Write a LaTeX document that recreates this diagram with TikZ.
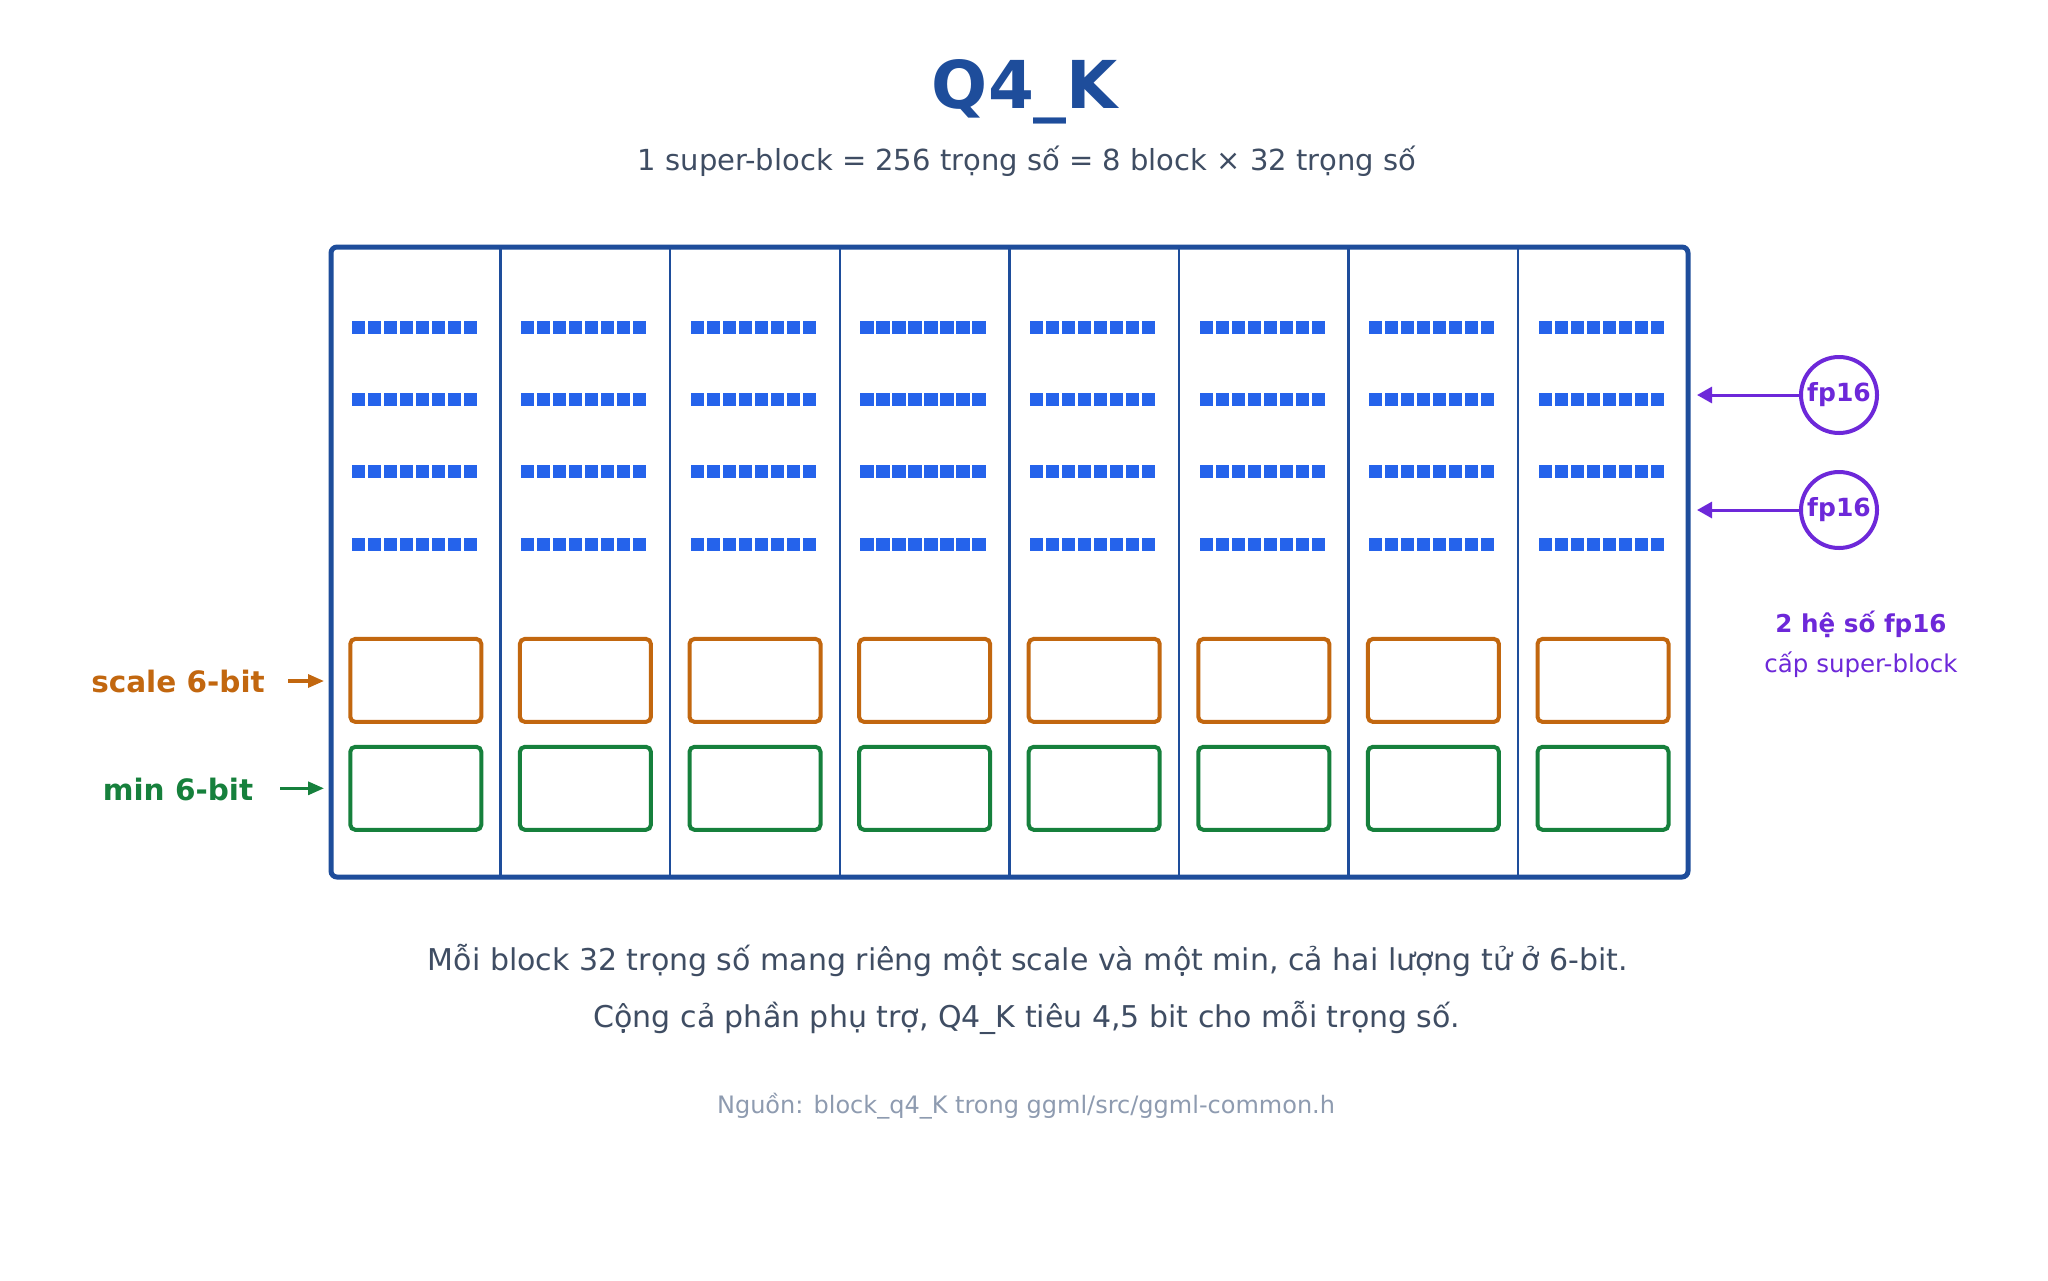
\documentclass[tikz,border=0pt]{standalone}
\usepackage{fontspec}
\setmainfont{DejaVu Sans}
\usetikzlibrary{arrows.meta}
\definecolor{navy}{HTML}{1E4D9B}
\definecolor{sqblue}{HTML}{2563EB}
\definecolor{orng}{HTML}{C2670F}
\definecolor{grn}{HTML}{16803C}
\definecolor{purp}{HTML}{6D28D9}
\definecolor{slate}{HTML}{3F4D63}
\definecolor{gry}{HTML}{8E9BB0}
\tikzset{
  ttl/.style={font=\bfseries\fontsize{33}{40}\selectfont, text=navy, anchor=base, inner sep=0pt},
  subt/.style={font=\fontsize{14.5}{17}\selectfont, text=slate, anchor=base, inner sep=0pt},
  bodyt/.style={font=\fontsize{15}{18}\selectfont, text=slate, anchor=base, inner sep=0pt},
  srct/.style={font=\fontsize{12}{14}\selectfont, text=gry, anchor=base, inner sep=0pt},
  superblk/.style={draw=navy, line width=2.5pt, rounded corners=3pt, minimum width=678.5pt, minimum height=315pt, inner sep=0pt},
  divider/.style={draw=navy, line width=1.2pt},
  scalebox/.style={draw=orng, line width=2pt, rounded corners=2.5pt, minimum width=65.5pt, minimum height=41.5pt, inner sep=0pt},
  minbox/.style={draw=grn, line width=2pt, rounded corners=2.5pt, minimum width=65.5pt, minimum height=41.5pt, inner sep=0pt},
  leftlbl/.style={font=\bfseries\fontsize{14.75}{17}\selectfont, anchor=base, inner sep=0pt},
  leftarrow/.style={line width=1.6pt, -{Triangle[length=8pt,width=6.5pt]}},
  fpnode/.style={circle, draw=purp, line width=2pt, minimum size=38pt, inner sep=0pt, text=purp, font=\bfseries\fontsize{12.5}{14}\selectfont},
  fparrow/.style={draw=purp, line width=1.5pt, -{Triangle[length=7.5pt,width=8pt]}},
  rightlbl/.style={text=purp, anchor=base, inner sep=0pt}
}
\begin{document}
\begin{tikzpicture}[x=0.5pt,y=-0.5pt]
\useasboundingbox (0,0) rectangle (2048,1280);
\fill[white] (0,0) rectangle (2048,1280);

% title
\node[ttl] (title) at (1025,108) {Q4\_K};
\node[subt] (subtitle) at (1027,170) {1 super-block = 256 trọng số = 8 block × 32 trọng số};

% super-block frame
\node[superblk] (sb) at (1009.5,562) {};
\foreach \i in {1,...,7}
  \draw[divider] ({331+\i*169.6},247) -- ({331+\i*169.6},877);

% weight squares
\foreach \c in {0,...,7}
  \foreach \r in {0,...,3}
    \foreach \k in {0,...,7}
      \fill[sqblue] ({331+\c*169.6+20.5+\k*16},{320.6+\r*72.3}) rectangle ++(13.2,13.2);

% scale and min boxes
\foreach \c in {1,...,8} {
  \node[scalebox] (s\c) at ({331+(\c-1)*169.6+84.8},680.4) {};
  \node[minbox] (m\c) at ({331+(\c-1)*169.6+84.8},788.3) {};
}

% left labels
\node[leftlbl, text=orng] (scalelbl) at (178,692) {scale 6-bit};
\node[leftlbl, text=grn] (minlbl) at (178,800) {min 6-bit};
\coordinate (scaletail) at (288,681);
\coordinate (scaletip) at (324,681);
\coordinate (mintail) at (280,788.3);
\coordinate (mintip) at (324,788.3);
\draw[leftarrow, orng] (scaletail) -- (scaletip);
\draw[leftarrow, grn] (mintail) -- (mintip);

% fp16 super-block factors
\node[fpnode] (fpa) at (1839,395) {fp16};
\node[fpnode] (fpb) at (1839,510) {fp16};
\coordinate (fpatip) at (1697,395);
\coordinate (fpbtip) at (1697,510);
\draw[fparrow] (fpa.west) -- (fpatip);
\draw[fparrow] (fpb.west) -- (fpbtip);
\node[rightlbl, font=\bfseries\fontsize{12.3}{15}\selectfont] (fplbl1) at (1861,632) {2 hệ số fp16};
\node[rightlbl, font=\fontsize{12.25}{15}\selectfont] (fplbl2) at (1861,672) {cấp super-block};

% captions
\node[bodyt] (cap1) at (1028,970) {Mỗi block 32 trọng số mang riêng một scale và một min, cả hai lượng tử ở 6-bit.};
\node[bodyt] (cap2) at (1027,1027) {Cộng cả phần phụ trợ, Q4\_K tiêu 4,5 bit cho mỗi trọng số.};
\node[srct] (src) at (1026,1113) {Nguồn: block\_q4\_K trong ggml/src/ggml-common.h};
\end{tikzpicture}
\end{document}
